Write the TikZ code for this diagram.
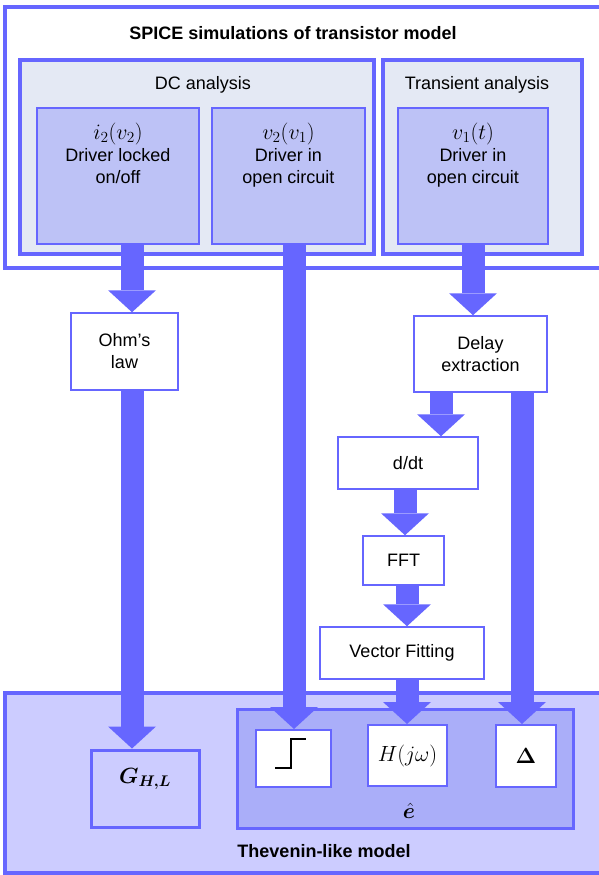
\RequirePackage{fix-cm}
\documentclass[tikz,border=0pt]{standalone}
\usepackage{amsmath,bm}
\usepackage{fontspec}
\setmainfont{Liberation Sans}
\usetikzlibrary{arrows.meta,calc,positioning}
\definecolor{edge}{HTML}{6666FF}
\definecolor{anfill}{HTML}{E4E9F4}
\definecolor{simfill}{HTML}{BDC2F6}
\definecolor{modfill}{HTML}{CCCCFF}
\definecolor{efill}{HTML}{AAAEF9}
\newcommand{\fs}{\fontsize{18}{22}\selectfont}
\newcommand{\ms}{\fontsize{22}{22}\selectfont}

\begin{document}
\begin{tikzpicture}[x=1pt,y=-1pt,
    bigbox/.style={draw=edge,line width=4pt},
    anbox/.style={draw=edge,line width=3.5pt,fill=anfill},
    simbox/.style={rectangle,draw=edge,line width=2pt,fill=simfill},
    simtext/.style={font=\fs,align=center,inner sep=2pt},
    procbox/.style={rectangle,draw=edge,line width=1.5pt,fill=white,font=\fs,align=center},
    modbox/.style={rectangle,draw=edge,line width=3pt},
    fat/.style={edge,line width=23pt,-{Triangle[width=48pt,length=22pt,line width=0pt]}}]
    \useasboundingbox (0,0) rectangle (598,875);

    % Draw the two outer frames
    \draw[bigbox,fill=white] (5,7) rectangle (620,268);
    \draw[bigbox,fill=modfill] (5,693) rectangle (620,873);
    \node[font=\fs\bfseries] (spice) at (293,33) {SPICE simulations of transistor model};
    \node[font=\fs\bfseries] (thev) at (324,851) {Thevenin-like model};

    % Draw the analysis boxes
    \draw[anbox] (20,60) rectangle (374,254);
    \draw[anbox] (383,60) rectangle (582,254);
    \node[font=\fs] (dc) at (203,85) {DC analysis};
    \node[font=\fs] (tr) at (477,85) {Transient analysis};

    \node[simbox,minimum width=162pt,minimum height=136pt] (i2) at (118,176) {};
    \node[simtext,below=14pt of i2.north] (i2t) {{\ms$i_2(v_2)$}\\Driver locked\\on/off};

    \node[simbox,minimum width=153pt,minimum height=136pt] (v2) at (288.5,176) {};
    \node[simtext,below=14pt of v2.north] (v2t) {{\ms$v_2(v_1)$}\\Driver in\\open circuit};

    \node[simbox,minimum width=150pt,minimum height=136pt] (v1) at (473,176) {};
    \node[simtext,below=14pt of v1.north] (v1t) {{\ms$v_1(t)$}\\Driver in\\open circuit};

    % Draw the processing steps
    \node[procbox,minimum width=107pt,minimum height=77pt] (ohm) at (124.5,351.5) {Ohm's\\law};
    \node[procbox,minimum width=133pt,minimum height=76pt] (delay) at (480.5,354) {Delay\\extraction};
    \node[procbox,minimum width=140pt,minimum height=52pt] (ddt) at (408,463) {d/dt};
    \node[procbox,minimum width=81pt,minimum height=49pt] (fft) at (403.5,560.5) {FFT};
    \node[procbox,minimum width=164pt,minimum height=52pt] (vf) at (402,653) {Vector Fitting};

    % Draw the model blocks
    \node[modbox,fill=modfill,minimum width=108pt,minimum height=77pt] (ghl) at (145,788.5) {};
    \node[font=\ms] (ghlt) at (145,779) {$\bm{G_{H,L}}$};
    \node[modbox,fill=efill,minimum width=336pt,minimum height=119pt] (ebox) at (405,768.5) {};
    \node[font=\ms,inner sep=1pt] (et) at (409,811) {$\bm{\hat{e}}$};
    \node[procbox,line width=2pt,minimum width=75pt,minimum height=57pt] (step) at (293.5,758.5) {};
    \node[procbox,font=\ms,line width=2pt,minimum width=79pt,minimum height=61pt] (hjw) at (407.5,755.5) {$H(j\omega)$};
    \node[procbox,font=\ms,line width=2pt,minimum width=60pt,minimum height=62pt] (delta) at (526,756) {$\bm{\Delta}$};
    \draw[line width=2pt] ($(step.center)+(-18.5,9.5)$) -- ($(step.center)+(-2.5,9.5)$)
        -- ($(step.center)+(-2.5,-19.5)$) -- ($(step.center)+(12.5,-19.5)$);

    % Draw the fat arrows
    \coordinate (cA) at (132,0);
    \coordinate (cB) at (294,0);
    \coordinate (cC) at (473,0);
    \coordinate (cD) at (441,0);
    \coordinate (cE) at (405,0);
    \coordinate (cF) at (407,0);
    \coordinate (cG) at (522,0);

    \draw[fat] (i2.south -| cA) -- (ohm.north -| cA);
    \draw[fat] (ohm.south -| cA) -- (ghl.north -| cA);
    \draw[fat] (v2.south -| cB) -- (step.north -| cB);
    \draw[fat] (v1.south -| cC) -- (delay.north -| cC);
    \draw[fat] (delay.south -| cD) -- (ddt.north -| cD);
    \draw[fat] (ddt.south -| cE) -- (fft.north -| cE);
    \draw[fat] (fft.south -| cF) -- (vf.north -| cF);
    \draw[fat] (vf.south -| cF) -- (hjw.north -| cF);
    \draw[fat] (delay.south -| cG) -- (delta.north -| cG);
\end{tikzpicture}
\end{document}
